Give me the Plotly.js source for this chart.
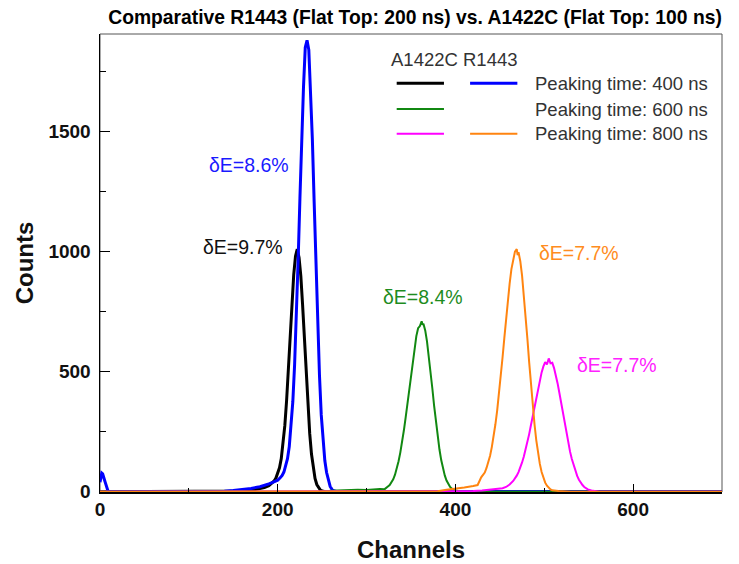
<!DOCTYPE html>
<html>
<head>
<meta charset="utf-8">
<script src="https://cdn.plot.ly/plotly-3.0.1.min.js"></script>
<style>html,body{margin:0;padding:0;background:#fff}#chart{width:739px;height:564px}</style>
</head>
<body>
<div id="chart"></div>
<script>
// ---- Data ----
// A1422C, peaking time 400 ns (black)
const chA1422C_400 = [0,150,160,170,180,185,190,194,196,198,200,202,204,206,208,210,212,214,216,218,220,222,224,226,228,230,232,234,236,238,240,242,244,246,248,250,254,700];
const cntA1422C_400 = [0,1,3,6,12,17,25,36,45,57,75,100,138,195,275,380,507,646,786,903,981,1010,975,899,778,634,489,355,243,157,96,55,30,15,7,3,0,0];
// R1443, peaking time 400 ns (blue)
const chR1443_400 = [0,1,2,3,4,5,6,7,8,9,10,130,140,150,160,170,180,185,190,195,200,203,205,207,209,211,213,215,217,219,221,223,225,227,229,231,233,235,237,239,241,243,245,247,249,251,253,255,257,259,261,263,266,270,700];
const cntR1443_400 = [40,62,78,75,66,50,38,22,8,3,0,0,2,5,9,14,21,26,33,40,48,59,68,82,105,138,188,265,375,529,729,966,1222,1476,1683,1850,1880,1840,1683,1466,1207,941,694,484,320,200,130,80,45,22,10,4,1,0,0];
// A1422C, peaking time 600 ns (green)
const chA1422C_600 = [0,250,260,270,280,290,300,310,315,320,322,324,326,328,330,332,334,336,338,340,342,344,346,348,350,352,354,356,358,360,362,363,364,366,368,370,372,374,376,378,380,382,384,386,388,390,392,394,396,398,400,405,410,700];
const cntA1422C_600 = [0,0,4,6,5,8,7,10,12,10,18,22,28,38,52,71,96,127,164,206,256,310,369,431,492,550,603,648,681,690,710,695,700,672,626,569,502,431,359,292,230,177,132,96,68,47,31,20,13,8,5,2,0,0];
// A1422C, peaking time 800 ns (magenta)
const chA1422C_800 = [0,400,420,430,440,445,449,453,457,461,465,467,469,471,473,475,477,479,481,483,485,487,489,491,493,495,497,499,501,503,505,507,509,511,513,515,517,519,521,523,525,527,529,531,533,535,537,539,541,543,545,549,553,557,562,700];
const cntA1422C_800 = [0,0,3,5,8,10,12,15,20,30,45,55,67,82,100,122,147,176,205,240,278,317,356,395,433,467,497,522,540,530,555,535,537,515,486,451,411,369,326,283,242,203,167,136,109,86,66,50,37,28,20,10,5,2,0,0];
// R1443, peaking time 800 ns (orange)
const chR1443_800 = [0,380,390,400,410,420,425,429,431,433,435,437,439,441,443,445,447,449,451,453,455,457,459,461,463,465,467,469,470,471,473,475,477,479,481,483,485,487,489,491,493,495,497,499,501,503,505,507,509,512,516,520,530,700];
const cntR1443_800 = [0,2,8,12,18,24,28,60,72,80,99,121,150,187,229,281,339,406,479,558,639,721,796,867,927,960,1000,1010,985,997,960,900,823,733,637,539,445,358,281,214,160,116,82,57,38,25,16,10,6,4,3,2,0,0];

// Energy resolutions (dE) per peak
const resolutionLabels = ["δE=8.6%", "δE=9.7%", "δE=8.4%", "δE=7.7%", "δE=7.7%"];
const legendRows = ["Peaking time: 400 ns", "Peaking time: 600 ns", "Peaking time: 800 ns"];
const legendHeader = "A1422C R1443";
const xTickVals = [0, 200, 400, 600];
const yTickVals = [0, 500, 1000, 1500];

// ---- Styles ----
const C_BLACK = "#000000", C_BLUE = "#0000ff", C_GREEN = "#118811", C_MAG = "#ff00ff", C_ORANGE = "#ff8410";
const FONT = "Liberation Sans, Arial, Helvetica, sans-serif";

function tr(x, y, color, w) {
  return {x: x, y: y, type: "scatter", mode: "lines", line: {color: color, width: w}, hoverinfo: "skip", showlegend: false};
}
const traces = [
  tr(chA1422C_400, cntA1422C_400, C_BLACK, 3),
  tr(chR1443_400, cntR1443_400, C_BLUE, 3),
  tr(chA1422C_600, cntA1422C_600, C_GREEN, 2),
  tr(chA1422C_800, cntA1422C_800, C_MAG, 2),
  tr(chR1443_800, cntR1443_800, C_ORANGE, 2)
];

const labelPos = [
  {x: 167.7, y: 1361, c: "#1a1aff"},
  {x: 161, y: 1021, c: "#111111"},
  {x: 363.8, y: 812, c: "#1e8c1e"},
  {x: 539, y: 996, c: "#ff8c20"},
  {x: 581.5, y: 528, c: "#ff22ff"}
];
const annotations = resolutionLabels.map((t, i) => ({
  x: labelPos[i].x, y: labelPos[i].y, xref: "x", yref: "y", text: t, showarrow: false,
  xanchor: "center", yanchor: "middle", font: {family: FONT, size: 19.5, color: labelPos[i].c}
}));
annotations.push({x: 0.570, y: 0.9454, xref: "paper", yref: "paper", text: legendHeader, showarrow: false,
  xanchor: "center", yanchor: "middle", font: {family: FONT, size: 18.5, color: "#333"}});
const rowY = [0.8924, 0.8362, 0.7823];
legendRows.forEach((t, i) => annotations.push({x: 0.696, y: rowY[i], xref: "paper", yref: "paper", text: t,
  showarrow: false, xanchor: "left", yanchor: "middle", font: {family: FONT, size: 18.5, color: "#333"}}));

function seg(x0, x1, y, color, w) {
  return {type: "line", xref: "paper", yref: "paper", x0: x0, x1: x1, y0: y, y1: y, line: {color: color, width: w}};
}
const shapes = [
  {type: "rect", xref: "paper", yref: "paper", x0: 0, x1: 1, y0: 0, y1: 1, line: {color: "#555", width: 1}, layer: "below"},
  seg(0.477, 0.553, rowY[0], C_BLACK, 3), seg(0.595, 0.671, rowY[0], C_BLUE, 3),
  seg(0.477, 0.553, rowY[1], C_GREEN, 2),
  seg(0.477, 0.553, rowY[2], C_MAG, 2), seg(0.595, 0.671, rowY[2], C_ORANGE, 2)
];

const layout = {
  width: 739, height: 564,
  margin: {l: 100, r: 17, t: 34, b: 72},
  paper_bgcolor: "#fff", plot_bgcolor: "#fff",
  font: {family: FONT, color: "#000"},
  title: {text: "<b>Comparative R1443 (Flat Top: 200 ns) vs. A1422C (Flat Top: 100 ns)</b>",
    x: 0.5616, xref: "container", xanchor: "center", y: 0.970, yref: "container", yanchor: "middle",
    font: {family: FONT, size: 19.3, color: "#000"}},
  xaxis: {range: [0, 700], tickvals: xTickVals, ticktext: xTickVals.map(String),
    ticks: "inside", ticklen: 8, tickwidth: 1, tickcolor: "#000",
    minor: {ticks: "inside", ticklen: 4, dtick: 100, tick0: 0, tickcolor: "#000", showgrid: false},
    showgrid: false, zeroline: false, showline: true, linecolor: "#000", linewidth: 1.5,
    tickfont: {family: FONT, size: 19, color: "#111", weight: "bold"},
    title: {text: "<b>Channels</b>", font: {family: FONT, size: 24, color: "#111"}, standoff: 22}},
  yaxis: {range: [-1, 1906], tickvals: yTickVals, ticktext: yTickVals.map(String),
    ticks: "inside", ticklen: 10, tickwidth: 1, tickcolor: "#000",
    minor: {ticks: "inside", ticklen: 6, dtick: 250, tick0: 0, tickcolor: "#000", showgrid: false},
    showgrid: false, zeroline: false, showline: true, linecolor: "#000", linewidth: 1.5,
    ticklabelstandoff: 4,
    tickfont: {family: FONT, size: 19, color: "#111", weight: "bold"},
    title: {text: "<b>Counts</b>", font: {family: FONT, size: 24, color: "#111"}, standoff: 8}},
  annotations: annotations,
  shapes: shapes,
  showlegend: false
};

Plotly.newPlot("chart", traces, layout, {displayModeBar: false, staticPlot: true});
</script>
</body>
</html>
